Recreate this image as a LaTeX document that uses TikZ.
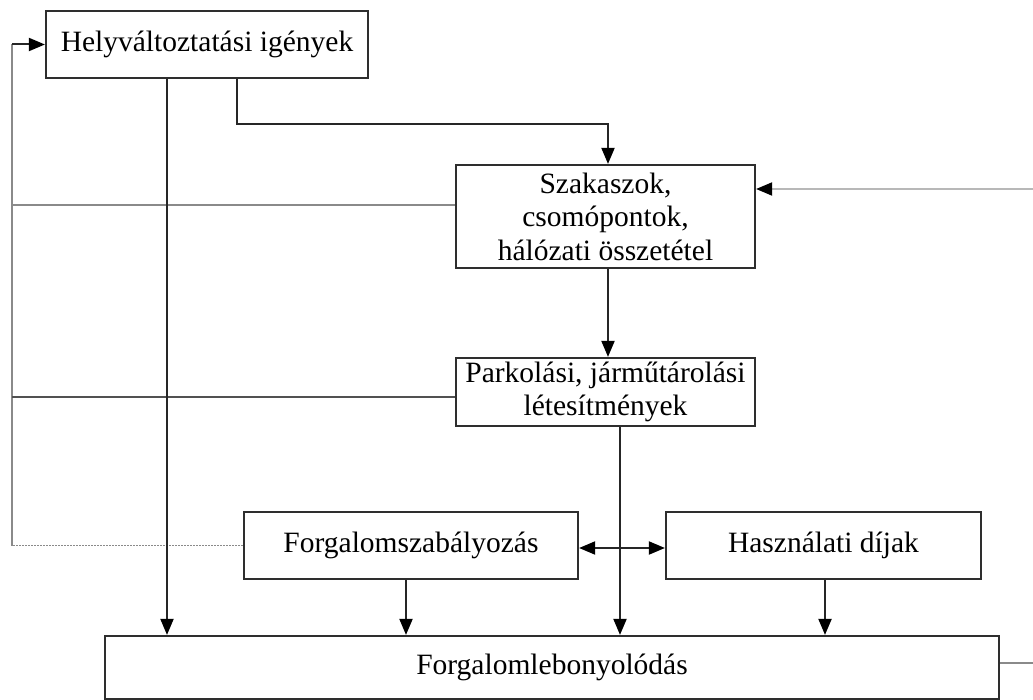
\documentclass[tikz,border=0pt]{standalone}
\usepackage{fontspec}
\setmainfont{Liberation Serif}
\usetikzlibrary{arrows.meta}

\definecolor{boxgray}{HTML}{2E2E2E}
\definecolor{linkdark}{HTML}{262626}
\definecolor{linkmid}{HTML}{8A8A8A}
\definecolor{linklight}{HTML}{B8B8B8}

\begin{document}
\begin{tikzpicture}[x=1pt,y=-1pt,
  box/.style={draw=boxgray, line width=2.2pt, inner sep=0pt, align=center,
              font=\fontsize{29.5}{33.5}\selectfont},
  link/.style={draw=linkdark, line width=2pt},
  greylink/.style={draw=linkmid, line width=1.6pt},
  paleline/.style={draw=linklight, line width=2pt},
  tip/.style={-{Triangle[length=16pt,width=13pt,color=black]}},
  twotip/.style={{Triangle[length=16pt,width=13pt,color=black]}-{Triangle[length=16pt,width=13pt,color=black]}}]
\useasboundingbox (0,0) rectangle (1033,700);

% boxes
\node[box, minimum width=322pt, minimum height=67pt] (igeny) at (207,44.5) {Helyváltoztatási igények};
\node[box, minimum width=299pt, minimum height=103pt] (szak) at (605.5,216.5) {Szakaszok,\\csomópontok,\\hálózati összetétel};
\node[box, minimum width=299pt, minimum height=68pt] (park) at (605.5,392) {Parkolási, járműtárolási\\létesítmények};
\node[box, minimum width=334pt, minimum height=67pt] (szab) at (411,545.5) {Forgalomszabályozás};
\node[box, minimum width=315pt, minimum height=67pt] (dij) at (823.5,545.5) {Használati díjak};
\node[box, minimum width=894pt, minimum height=63pt] (lebony) at (552,667.5) {Forgalomlebonyolódás};

% helper columns / rows
\coordinate (xl) at (12,0);
\coordinate (xa) at (167,0);
\coordinate (xb) at (237,0);
\coordinate (xc) at (608,0);
\coordinate (xd) at (620,0);
\coordinate (xe) at (406,0);
\coordinate (xf) at (825,0);
\coordinate (yr) at (0,124);
\coordinate (rin) at (1033,189);
\coordinate (rout) at (1033,663);

% feedback loop on the left
\draw[greylink] (xl |- szab.west) -- (xl |- igeny.west);
\draw[link, tip] (xl |- igeny.west) -- (igeny.west);
\draw[draw=linkmid, line width=1.6pt, dash pattern=on 2pt off 1pt] (szab.west) -- (xl |- szab.west);
\draw[greylink] (szak.west |- 0,205) -- (xl |- 0,205);
\draw[draw=linkdark!80, line width=1.8pt] (park.west |- 0,397) -- (xl |- 0,397);

% main flow
\draw[link, tip] (igeny.south -| xa) -- (lebony.north -| xa);
\draw[link, tip] (igeny.south -| xb) -- (xb |- yr) -- (xc |- yr) -- (szak.north -| xc);
\draw[paleline, tip] (rin) -- (szak.east |- rin);
\draw[link, tip] (szak.south -| xc) -- (park.north -| xc);
\draw[link, tip] (park.south -| xd) -- (lebony.north -| xd);
\draw[link, twotip] (szab.east |- 0,548) -- (dij.west |- 0,548);
\draw[link, tip] (szab.south -| xe) -- (lebony.north -| xe);
\draw[link, tip] (dij.south -| xf) -- (lebony.north -| xf);
\draw[greylink] (lebony.east |- rout) -- (rout);
\end{tikzpicture}
\end{document}
